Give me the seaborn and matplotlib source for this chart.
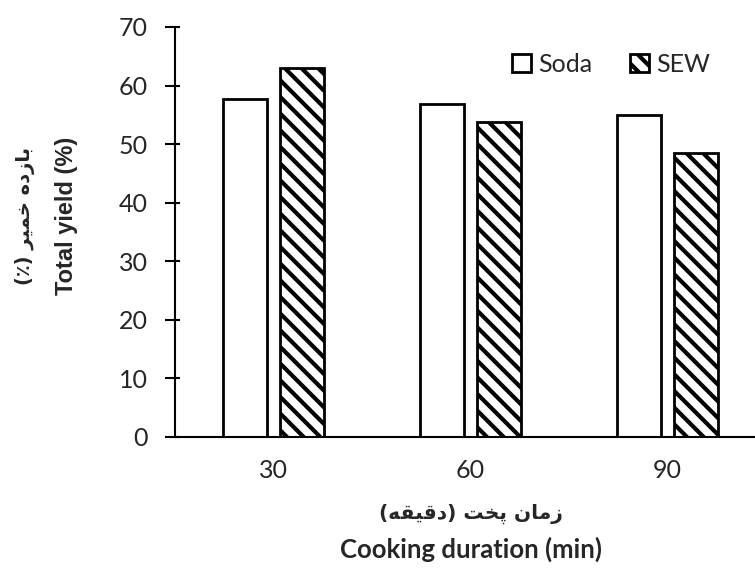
import matplotlib
matplotlib.use("Agg")
import matplotlib.pyplot as plt
import seaborn as sns
import pandas as pd

# ---- data ----
durations = ["30", "60", "90"]
soda = [57.7, 56.8, 55.0]
sew = [63.0, 53.8, 48.5]
series_names = ["Soda", "SEW"]
y_ticks = [0, 10, 20, 30, 40, 50, 60, 70]

ylabel_fa = "بازده خمیر (٪)"
ylabel_en = "Total yield (%)"
xlabel_fa = "زمان پخت (دقیقه)"
xlabel_en = "Cooking duration (min)"

# ---- minimal Persian shaping (presentation forms, visual order) ----
FORMS = {
    'ا': ('\uFE8D', '\uFE8E', None, None),
    'ب': ('\uFE8F', '\uFE90', '\uFE91', '\uFE92'),
    'پ': ('\uFB56', '\uFB57', '\uFB58', '\uFB59'),
    'ت': ('\uFE95', '\uFE96', '\uFE97', '\uFE98'),
    'خ': ('\uFEA5', '\uFEA6', '\uFEA7', '\uFEA8'),
    'د': ('\uFEA9', '\uFEAA', None, None),
    'ر': ('\uFEAD', '\uFEAE', None, None),
    'ز': ('\uFEAF', '\uFEB0', None, None),
    'ق': ('\uFED5', '\uFED6', '\uFED7', '\uFED8'),
    'م': ('\uFEE1', '\uFEE2', '\uFEE3', '\uFEE4'),
    'ن': ('\uFEE5', '\uFEE6', '\uFEE7', '\uFEE8'),
    'ه': ('\uFEE9', '\uFEEA', '\uFEEB', '\uFEEC'),
    'ی': ('\uFBFC', '\uFBFD', '\uFBFE', '\uFBFF'),
}


def shape(text):
    out = []
    n = len(text)
    for i, c in enumerate(text):
        if c not in FORMS:
            out.append(c)
            continue
        prev = text[i - 1] if i > 0 else ''
        nxt = text[i + 1] if i < n - 1 else ''
        conn_prev = prev in FORMS and FORMS[prev][2] is not None
        conn_next = FORMS[c][2] is not None and nxt in FORMS
        iso, fin, ini, med = FORMS[c]
        if conn_prev and conn_next:
            out.append(med)
        elif conn_prev:
            out.append(fin)
        elif conn_next:
            out.append(ini)
        else:
            out.append(iso)
    mirror = {'(': ')', ')': '('}
    return ''.join(mirror.get(ch, ch) for ch in reversed(out))


df = pd.DataFrame({
    "duration": durations * 2,
    "series": [series_names[0]] * 3 + [series_names[1]] * 3,
    "value": soda + sew,
})

sns.set_style("white")
plt.rcParams["hatch.linewidth"] = 3.0
plt.rcParams["font.family"] = ["Lato", "DejaVu Sans"]

fig = plt.figure(figsize=(7.55, 5.72), dpi=100)
W, H = 755, 572
ax = fig.add_axes([175 / W, 135 / H, 591 / W, 410 / H])

sns.barplot(data=df, x="duration", y="value", hue="series", order=durations,
            hue_order=series_names, width=0.57, gap=0.215, dodge=True,
            legend=False, ax=ax, errorbar=None)

for ci, cont in enumerate(ax.containers):
    for p in cont.patches:
        p.set_facecolor("white")
        p.set_edgecolor("black")
        p.set_linewidth(2.0)
        if ci == 1:
            p.set_hatch("\\\\")

ax.set_xlim(-0.5, 2.5)
ax.set_ylim(0, 70)
ax.set_yticks(y_ticks)
ax.set_xlabel("")
ax.set_ylabel("")

for s in ["top", "right"]:
    ax.spines[s].set_visible(False)
for s in ["left", "bottom"]:
    ax.spines[s].set_linewidth(1.5)
    ax.spines[s].set_color("black")

ax.tick_params(axis="y", which="major", direction="out", length=7.5, width=1.5,
               labelsize=18, pad=12, color="black", left=True)
ax.yaxis.remove_overlapping_locs = False
ax.set_yticks(y_ticks, minor=True)
ax.tick_params(axis="y", which="minor", direction="in", length=3.5, width=1.5,
               color="black", left=True)
ax.tick_params(axis="x", length=0, labelsize=18, pad=16)
for lab in ax.get_xticklabels() + ax.get_yticklabels():
    lab.set_family(["Lato", "DejaVu Sans"])

# axis labels
fig.text(25 / W, 1 - 216 / H, shape(ylabel_fa), rotation=90, ha="center", va="center",
         fontsize=14, fontweight="bold", family=["DejaVu Sans"])
fig.text(66 / W, 1 - 216 / H, ylabel_en, rotation=90, ha="center", va="center",
         fontsize=17, fontweight="bold", family=["Liberation Sans", "DejaVu Sans"])
fig.text(471 / W, 1 - 514 / H, shape(xlabel_fa), ha="center", va="center",
         fontsize=14.5, fontweight="bold", family=["DejaVu Sans"])
fig.text(471 / W, 1 - 558 / H, xlabel_en, ha="center", va="baseline",
         fontsize=18.5, fontweight="bold", family=["Lato", "DejaVu Sans"])

leg = ax.legend(ax.containers, series_names, loc="center left",
                bbox_to_anchor=(512 / W, 1 - 64 / H), bbox_transform=fig.transFigure,
                ncol=2, frameon=False, fontsize=18, handlelength=0.75, handleheight=0.75,
                handletextpad=0.3, columnspacing=1.5, borderpad=0, borderaxespad=0)

fig.savefig("out.png", dpi=100)
